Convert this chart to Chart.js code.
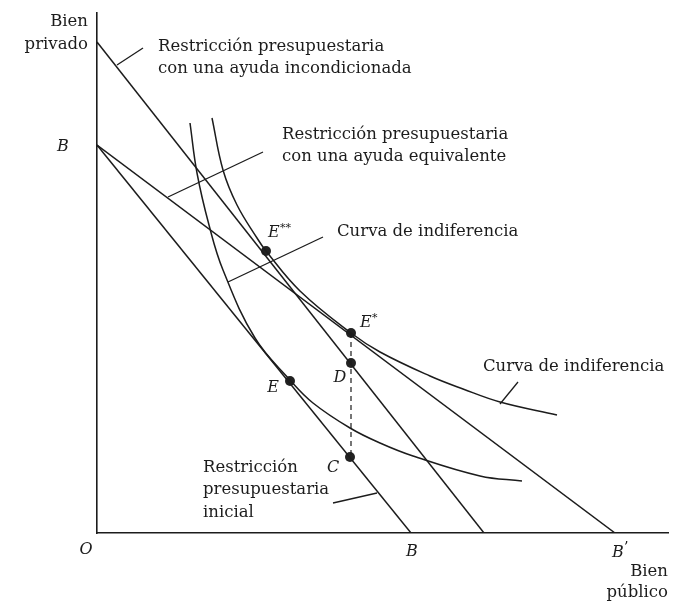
<!DOCTYPE html>
<html>
<head>
<meta charset="utf-8">
<script src="https://cdn.jsdelivr.net/npm/chart.js@4/dist/chart.umd.min.js"></script>
<style>
  html, body { margin: 0; padding: 0; background: #fff; }
  #c { display: block; }
</style>
</head>
<body>
<canvas id="c" width="679" height="604"></canvas>
<script>
// ---- Data (abstract units: x = bien público, y = bien privado) ----
const incondX = [0, 387];          // Restricción con ayuda incondicionada
const incondY = [491, 0];
const equivX = [0, 518];           // Restricción con ayuda equivalente (B -> B')
const equivY = [388, 0];
const inicialX = [0, 314];         // Restricción presupuestaria inicial (B -> B)
const inicialY = [388, 0];

const ic1X = [93, 100, 112, 126, 158, 193, 216, 253, 283, 316, 383, 425];
const ic1Y = [410, 360, 308, 263, 195, 153, 130, 105, 90, 77, 57, 52];
const ic2X = [115, 126, 140, 160, 169, 203, 254, 283, 333, 366, 403, 460];
const ic2Y = [415, 363, 328, 295, 282, 242, 200, 181, 157, 144, 131, 118];

const pointNames = ['E**', 'E*', 'D', 'E', 'C'];
const pointX = [169, 254, 254, 193, 253];
const pointY = [282, 200, 170, 152, 76];

const dashX = [254, 254];
const dashY = [200, 76];

// leader lines (start, end)
const leadIncondX = [46, 20],  leadIncondY = [485, 468];
const leadEquivX = [166, 71],  leadEquivY = [381, 336];
const leadIc1X = [226, 131],   leadIc1Y = [296, 251];
const leadIc2X = [421, 403],   leadIc2Y = [151, 129];
const leadInicX = [236, 280],  leadInicY = [30, 40];

const zip = (xs, ys) => xs.map((x, i) => ({x, y: ys[i]}));
const INK = '#1c1c1c';

function lineDs(xs, ys, extra) {
  return Object.assign({
    data: zip(xs, ys), showLine: true, pointRadius: 0, pointHoverRadius: 0,
    borderColor: INK, borderWidth: 1.5, fill: false, tension: 0
  }, extra || {});
}

const datasets = [
  lineDs(incondX, incondY),
  lineDs(equivX, equivY),
  lineDs(inicialX, inicialY),
  lineDs(ic1X, ic1Y, {tension: 0.4}),
  lineDs(ic2X, ic2Y, {tension: 0.4}),
  lineDs(dashX, dashY, {borderDash: [5, 4], borderWidth: 1.2}),
  lineDs(leadIncondX, leadIncondY, {borderWidth: 1.3}),
  lineDs(leadEquivX, leadEquivY, {borderWidth: 1.3}),
  lineDs(leadIc1X, leadIc1Y, {borderWidth: 1.3}),
  lineDs(leadIc2X, leadIc2Y, {borderWidth: 1.3}),
  lineDs(leadInicX, leadInicY, {borderWidth: 1.3}),
  {
    data: zip(pointX, pointY), showLine: false, pointRadius: 5,
    pointBackgroundColor: '#222', pointBorderColor: '#222', pointBorderWidth: 0
  }
];

const SERIF = '"DejaVu Serif", "Liberation Serif", serif';
const texts = [
  // [text, x, y, align, style]
  ['Bien', 88, 22, 'right', 'r'],
  ['privado', 88, 45, 'right', 'r'],
  ['Restricción presupuestaria', 158, 47, 'left', 'r'],
  ['con una ayuda incondicionada', 158, 69, 'left', 'r'],
  ['Restricción presupuestaria', 282, 135, 'left', 'r'],
  ['con una ayuda equivalente', 282, 157, 'left', 'r'],
  ['Curva de indiferencia', 337, 232, 'left', 'r'],
  ['Curva de indiferencia', 483, 367, 'left', 'r'],
  ['Restricción', 203, 468, 'left', 'r'],
  ['presupuestaria', 203, 490, 'left', 'r'],
  ['inicial', 203, 513, 'left', 'r'],
  ['Bien', 668, 572, 'right', 'r'],
  ['público', 668, 593, 'right', 'r'],
  ['B', 63, 147, 'center', 'i'],
  ['O', 86, 550, 'center', 'i'],
  ['B', 412, 552, 'center', 'i'],
  ['D', 340, 378, 'center', 'i'],
  ['E', 273, 388, 'center', 'i'],
  ['C', 333, 468, 'center', 'i']
];

const labelPlugin = {
  id: 'labels',
  afterDraw(chart) {
    const ctx = chart.ctx;
    ctx.save();
    ctx.fillStyle = INK;
    ctx.textBaseline = 'middle';
    texts.forEach(([t, x, y, al, st]) => {
      ctx.textAlign = al;
      ctx.font = st === 'i' ? 'italic 16px ' + SERIF : '16.5px ' + SERIF;
      ctx.fillText(t, x, y);
    });
    // E** / E* / B' with superscripts
    ctx.textAlign = 'left';
    ctx.font = 'italic 16px ' + SERIF;
    ctx.fillText('E', 268, 233);
    ctx.fillText('E', 360, 323);
    ctx.fillText('B', 612, 553);
    ctx.font = '11px ' + SERIF;
    ctx.fillText('**', 280, 228);
    ctx.fillText('*', 372, 318);
    ctx.font = '14px ' + SERIF;
    ctx.fillText('\u2019', 624, 548);
    ctx.restore();
  }
};

const zeroFit = (s) => { if (s.isHorizontal()) s.height = 0; else s.width = 0; };

new Chart(document.getElementById('c'), {
  type: 'scatter',
  data: { datasets },
  options: {
    responsive: false,
    animation: false,
    devicePixelRatio: 1,
    layout: { padding: { left: 97, right: 11, top: 13, bottom: 71 } },
    plugins: { legend: { display: false }, tooltip: { enabled: false } },
    scales: {
      x: {
        type: 'linear', min: 0, max: 571,
        grid: { display: false, drawTicks: false },
        ticks: { display: false },
        border: { display: true, color: INK, width: 1.6 },
        afterFit: zeroFit
      },
      y: {
        type: 'linear', min: 0, max: 520,
        grid: { display: false, drawTicks: false },
        ticks: { display: false },
        border: { display: true, color: INK, width: 1.6 },
        afterFit: zeroFit
      }
    }
  },
  plugins: [labelPlugin]
});
</script>
</body>
</html>
